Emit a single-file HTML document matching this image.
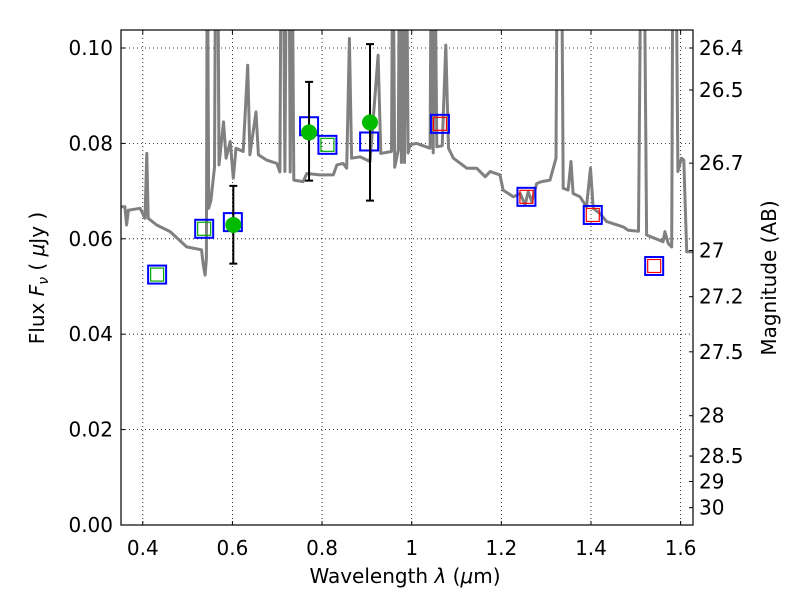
<!DOCTYPE html>
<html><head><meta charset="utf-8"><style>
body{margin:0;background:#fff}
svg text{font-family:"DejaVu Sans","Liberation Sans",sans-serif;fill:#000}
</style></head><body>
<svg id="chart" width="800" height="600" xmlns="http://www.w3.org/2000/svg">
<defs><clipPath id="plotclip"><rect x="121" y="30" width="572" height="495"/></clipPath></defs>
<rect x="0" y="0" width="800" height="600" fill="#fff"/>
<g id="grid"></g>
<g id="spec" clip-path="url(#plotclip)"></g>
<g id="marks" clip-path="url(#plotclip)"></g>
<rect x="121" y="30" width="572" height="495" fill="none" stroke="#000" stroke-width="1.2"/>
<g id="axes"></g>
<text x="405" y="583" font-size="20" text-anchor="middle">Wavelength  <tspan font-style="italic">λ</tspan> (<tspan font-style="italic">μ</tspan>m)</text>
<text transform="translate(44,278) rotate(-90)" font-size="20" text-anchor="middle">Flux  <tspan font-style="italic">F<tspan font-size="14" dy="4">ν</tspan></tspan><tspan dy="-4">  (  </tspan><tspan font-style="italic">μ</tspan>Jy )</text>
<text transform="translate(776,278) rotate(-90)" font-size="20" text-anchor="middle">Magnitude (AB)</text>
</svg>
<script>
const xTicks=[0.4,0.6,0.8,1.0,1.2,1.4,1.6];
const xTickLabels=["0.4","0.6","0.8","1","1.2","1.4","1.6"];
const yTicks=[0,0.02,0.04,0.06,0.08,0.10];
const yTickLabels=["0.00","0.02","0.04","0.06","0.08","0.10"];
const magTicks=[26.4,26.5,26.7,27,27.2,27.5,28,28.5,29,30];
const magTickLabels=["26.4","26.5","26.7","27","27.2","27.5","28","28.5","29","30"];
const specWave=[0.352,0.360,0.364,0.368,0.394,0.405,0.409,0.412,0.431,0.461,0.498,0.531,0.535,0.539,0.542,0.544,0.547,0.552,0.560,0.563,0.567,0.570,0.580,0.586,0.595,0.602,0.608,0.624,0.634,0.639,0.6526,0.658,0.6765,0.699,0.706,0.709,0.713,0.717,0.721,0.726,0.729,0.733,0.737,0.758,0.766,0.795,0.825,0.833,0.847,0.855,0.861,0.866,0.885,0.907,0.925,0.931,0.955,0.958,0.962,0.970,0.973,0.977,0.980,0.984,0.988,0.992,0.996,1.011,1.041,1.044,1.048,1.051,1.056,1.068,1.076,1.082,1.093,1.123,1.145,1.164,1.175,1.197,1.204,1.227,1.242,1.253,1.260,1.268,1.279,1.290,1.3086,1.322,1.325,1.334,1.338,1.349,1.3554,1.36,1.3755,1.390,1.399,1.405,1.420,1.435,1.472,1.483,1.506,1.512,1.518,1.524,1.561,1.565,1.5725,1.580,1.583,1.589,1.594,1.602,1.607,1.6136,1.63];
const specFlux=[0.0667,0.0667,0.0629,0.066,0.0664,0.0643,0.0779,0.0643,0.0629,0.0615,0.0583,0.0577,0.0545,0.0524,0.0559,0.13,0.0664,0.068,0.075,0.13,0.13,0.0755,0.0845,0.0769,0.0804,0.0727,0.079,0.0783,0.0964,0.0776,0.0866,0.0776,0.0765,0.0758,0.074,0.13,0.13,0.0741,0.13,0.13,0.074,0.13,0.0723,0.072,0.0737,0.0734,0.0734,0.0755,0.0758,0.0748,0.102,0.0769,0.0772,0.0762,0.0985,0.0779,0.0783,0.13,0.075,0.0786,0.13,0.076,0.13,0.076,0.13,0.078,0.0797,0.080,0.079,0.13,0.078,0.13,0.0793,0.0795,0.1006,0.079,0.0769,0.0748,0.0748,0.073,0.0741,0.0734,0.0702,0.0688,0.0695,0.0671,0.0699,0.0678,0.0716,0.072,0.0723,0.0769,0.13,0.13,0.0706,0.0702,0.0762,0.0695,0.0688,0.0667,0.0748,0.0664,0.0653,0.0636,0.0625,0.0618,0.0616,0.13,0.13,0.0608,0.0594,0.0615,0.059,0.0583,0.13,0.13,0.0741,0.0769,0.0765,0.0573,0.0573];
const modelWave=[0.432,0.537,0.601,0.771,0.812,0.905,1.063,1.256,1.404,1.541];
const modelFlux=[0.0525,0.0621,0.0635,0.0836,0.0797,0.0804,0.0841,0.0688,0.065,0.0543];
const innerWave=[0.432,0.537,0.812,1.063,1.256,1.404,1.541];
const innerFlux=[0.0525,0.0621,0.0797,0.0841,0.0688,0.065,0.0543];
const innerColor=["#00aa00","#00aa00","#00aa00","#ff0000","#ff0000","#ff0000","#ff0000"];
const obsWave=[0.602,0.771,0.907];
const obsFlux=[0.0629,0.0823,0.0844];
const obsLow=[0.0548,0.0722,0.068];
const obsHigh=[0.0711,0.0929,0.1008];

const NS="http://www.w3.org/2000/svg";
const X0=121,X1=693,Y0=525,Y1=30;
function xs(v){return 411.7+(v-1)*448.2;}
function ys(v){return 525-v*4770;}
function magToFlux(m){return Math.pow(10,(23.9-m)/2.5);}
function mk(tag,attrs,parent){const e=document.createElementNS(NS,tag);for(const k in attrs)e.setAttribute(k,attrs[k]);parent.appendChild(e);return e;}
const grid=document.getElementById('grid'),axes=document.getElementById('axes'),spec=document.getElementById('spec'),marks=document.getElementById('marks');

xTicks.forEach((t,i)=>{const x=xs(t);
 let g=mk('line',{x1:x,x2:x,y1:Y1,y2:Y0,stroke:'#000','stroke-width':0.8,'stroke-dasharray':'1,3'},grid);
 
 let a=mk('line',{x1:x,x2:x,y1:Y0,y2:Y0-4,stroke:'#000','stroke-width':1},axes);
 
 let b=mk('line',{x1:x,x2:x,y1:Y1,y2:Y1+4,stroke:'#000','stroke-width':1},axes);
 
 let tx=mk('text',{x:x,y:555,'font-size':20,'text-anchor':'middle'},axes);tx.textContent=xTickLabels[i];
 
});
yTicks.forEach((t,i)=>{const y=ys(t);
 let g=mk('line',{x1:X0,x2:X1,y1:y,y2:y,stroke:'#000','stroke-width':0.8,'stroke-dasharray':'1,3'},grid);
 
 let a=mk('line',{x1:X0,x2:X0+4,y1:y,y2:y,stroke:'#000','stroke-width':1},axes);
 
 let tx=mk('text',{x:113,y:y+7,'font-size':20,'text-anchor':'end'},axes);tx.textContent=yTickLabels[i];
 
});
magTicks.forEach((m,i)=>{const y=ys(magToFlux(m));
 let a=mk('line',{x1:X1,x2:X1-4,y1:y,y2:y,stroke:'#000','stroke-width':1},axes);
 
 let tx=mk('text',{x:699,y:y+7,'font-size':20,'text-anchor':'start'},axes);tx.textContent=magTickLabels[i];
 
});

let d=specWave.map((w,i)=>(i?'L':'M')+xs(w).toFixed(1)+','+ys(specFlux[i]).toFixed(1)).join(' ');
let sp=mk('path',{d:d,fill:'none',stroke:'#808080','stroke-width':3,'stroke-linejoin':'round'},spec);


modelWave.forEach((w,i)=>{const x=xs(w),y=ys(modelFlux[i]);
 let r=mk('rect',{x:x-9,y:y-9,width:18,height:18,fill:'none',stroke:'#0000ff','stroke-width':2},marks);
 
});
innerWave.forEach((w,i)=>{const x=xs(w),y=ys(innerFlux[i]);
 let r=mk('rect',{x:x-6.5,y:y-6.5,width:13,height:13,fill:'none',stroke:innerColor[i],'stroke-width':1.2},marks);
 
});
obsWave.forEach((w,i)=>{const x=xs(w);
 let e=mk('path',{d:`M${x},${ys(obsLow[i])}V${ys(obsHigh[i])}M${x-4},${ys(obsLow[i])}H${x+4}M${x-4},${ys(obsHigh[i])}H${x+4}`,stroke:'#000','stroke-width':2,fill:'none'},marks);
 
 let c=mk('circle',{cx:x,cy:ys(obsFlux[i]),r:8,fill:'#00bb00'},marks);
 
});
</script>
</body></html>
